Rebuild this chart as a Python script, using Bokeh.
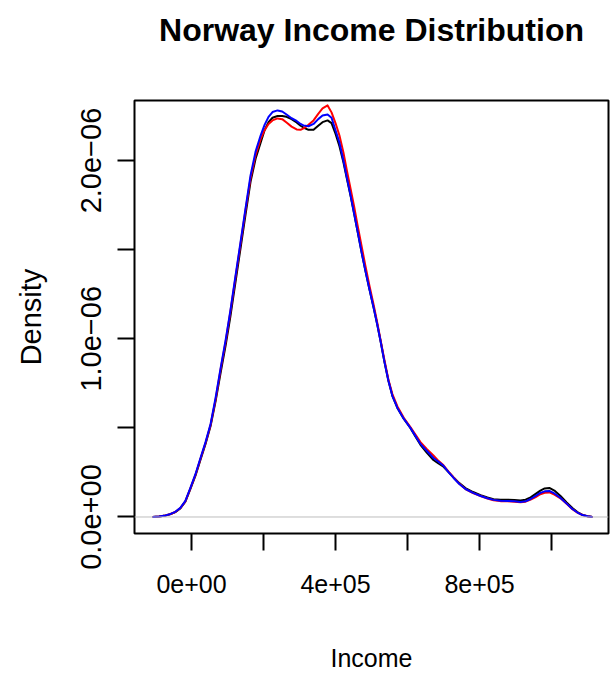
from bokeh.plotting import figure
from bokeh.models import Range1d, FixedTicker, Span, Title
from bokeh.embed import file_html
from bokeh.resources import INLINE

# Income grid (NOK) and density estimates (x 1e-6) for three samples
income = [-108000, -90000, -72000, -58000, -45000, -31000, -17000, -3000, 11000, 25000,
          39000, 53000, 67000, 81000, 95000, 108000, 122000, 136000, 150000, 164000,
          178000, 192000, 203000, 214000, 225000, 239000, 252000, 264000, 278000, 292000,
          303000, 311000, 325000, 339000, 352000, 364000, 378000, 389000, 400000, 411000,
          422000, 432000, 442000, 452000, 461000, 472000, 483000, 494000, 506000, 516000,
          525000, 536000, 547000, 558000, 572000, 590000, 608000, 622000, 636000, 654000,
          672000, 686000, 700000, 714000, 728000, 744000, 761000, 782000, 803000, 822000,
          839000, 858000, 878000, 897000, 914000, 928000, 942000, 956000, 969000, 981000,
          994000, 1008000, 1025000, 1042000, 1058000, 1072000, 1086000, 1100000, 1114000]

density_black = [0.0, 0.003, 0.008, 0.016, 0.027, 0.048, 0.086, 0.158, 0.232, 0.322,
                 0.41, 0.51, 0.65, 0.81, 0.965, 1.125, 1.315, 1.505, 1.695, 1.88,
                 2.01, 2.10, 2.17, 2.215, 2.24, 2.25, 2.25, 2.245, 2.232, 2.213,
                 2.195, 2.185, 2.172, 2.172, 2.195, 2.215, 2.225, 2.21, 2.15, 2.08,
                 1.99, 1.895, 1.80, 1.70, 1.605, 1.49, 1.382, 1.28, 1.174, 1.08,
                 0.989, 0.87, 0.764, 0.68, 0.612, 0.55, 0.50, 0.452, 0.405, 0.36,
                 0.32, 0.30, 0.282, 0.252, 0.222, 0.19, 0.162, 0.14, 0.122, 0.109,
                 0.10, 0.097, 0.097, 0.095, 0.092, 0.097, 0.11, 0.13, 0.148, 0.16,
                 0.163, 0.148, 0.118, 0.082, 0.05, 0.028, 0.012, 0.004, 0.0]

density_red = [0.0, 0.003, 0.009, 0.017, 0.028, 0.05, 0.088, 0.16, 0.236, 0.327,
               0.415, 0.516, 0.66, 0.83, 0.985, 1.15, 1.34, 1.53, 1.72, 1.90,
               2.03, 2.12, 2.17, 2.205, 2.225, 2.236, 2.232, 2.213, 2.19, 2.174,
               2.172, 2.18, 2.20, 2.225, 2.262, 2.292, 2.309, 2.27, 2.21, 2.14,
               2.045, 1.94, 1.84, 1.74, 1.64, 1.525, 1.41, 1.30, 1.19, 1.09,
               0.995, 0.88, 0.77, 0.69, 0.62, 0.555, 0.505, 0.462, 0.42, 0.38,
               0.345, 0.315, 0.29, 0.255, 0.222, 0.186, 0.157, 0.134, 0.118, 0.104,
               0.094, 0.089, 0.088, 0.086, 0.083, 0.086, 0.098, 0.112, 0.128, 0.136,
               0.138, 0.126, 0.105, 0.074, 0.044, 0.024, 0.011, 0.004, 0.0]

density_blue = [0.0, 0.003, 0.009, 0.017, 0.029, 0.051, 0.09, 0.163, 0.24, 0.331,
                0.42, 0.522, 0.67, 0.837, 0.995, 1.157, 1.35, 1.539, 1.73, 1.916,
                2.05, 2.14, 2.20, 2.245, 2.272, 2.281, 2.275, 2.258, 2.237, 2.222,
                2.205, 2.197, 2.192, 2.205, 2.232, 2.252, 2.258, 2.24, 2.17, 2.10,
                2.0, 1.90, 1.803, 1.70, 1.607, 1.49, 1.382, 1.28, 1.174, 1.08,
                0.989, 0.87, 0.764, 0.68, 0.612, 0.55, 0.5, 0.455, 0.41, 0.37,
                0.331, 0.31, 0.287, 0.252, 0.219, 0.185, 0.157, 0.135, 0.118, 0.105,
                0.096, 0.091, 0.090, 0.088, 0.084, 0.088, 0.101, 0.118, 0.135, 0.144,
                0.146, 0.132, 0.107, 0.075, 0.045, 0.025, 0.011, 0.004, 0.0]

x_ticks = [0, 200000, 400000, 600000, 800000, 1000000]
x_tick_labels = {0: "0e+00", 200000: "", 400000: "4e+05", 600000: "", 800000: "8e+05", 1000000: ""}
y_ticks = [0.0, 5e-07, 1e-06, 1.5e-06, 2e-06]
y_tick_labels = {0.0: "0.0e+00", 5e-07: "", 1e-06: "1.0e\u221206", 1.5e-06: "", 2e-06: "2.0e\u221206"}

FONT = "Liberation Sans"

p = figure(width=610, height=679, output_backend="svg", toolbar_location=None,
           x_range=Range1d(-158300, 1158300), y_range=Range1d(-0.0926e-6, 2.3366e-6),
           min_border_left=134, min_border_right=2, min_border_top=100, min_border_bottom=146,
           title="Norway Income Distribution")
p.title.align = "center"
p.title.text_font = FONT
p.title.text_font_size = "32px"
p.title.text_font_style = "bold"
p.title.text_color = "black"

# empty spacer between the title and the frame
p.add_layout(Title(text=" ", text_font_size="32px"), "above")

p.grid.visible = False
p.outline_line_color = "black"
p.outline_line_width = 2
p.background_fill_color = "white"
p.border_fill_color = "white"

p.add_layout(Span(location=0, dimension="width", line_color="#bebebe", line_width=1))

scale = 1e-6
for dens, col in ((density_black, "black"), (density_red, "red"), (density_blue, "blue")):
    p.line(income, [v * scale for v in dens], line_color=col, line_width=2, line_join="round")

xa = p.xaxis[0]
xa.ticker = FixedTicker(ticks=x_ticks, minor_ticks=[])
xa.major_label_overrides = x_tick_labels
xa.axis_label = "Income"
ya = p.yaxis[0]
ya.ticker = FixedTicker(ticks=y_ticks, minor_ticks=[])
ya.major_label_overrides = y_tick_labels
ya.axis_label = "Density"
ya.major_label_orientation = "vertical"

for ax in (xa, ya):
    ax.axis_line_color = None
    ax.major_tick_line_color = "black"
    ax.major_tick_line_width = 2
    ax.major_tick_out = 17
    ax.major_tick_in = 0
    ax.minor_tick_line_color = None
    ax.major_label_text_font = FONT
    ax.major_label_text_color = "black"
    ax.axis_label_text_font = FONT
    ax.axis_label_text_font_style = "normal"
    ax.axis_label_text_color = "black"

xa.major_label_text_font_size = "25px"
xa.axis_label_text_font_size = "25px"
ya.major_label_text_font_size = "29px"
ya.axis_label_text_font_size = "29px"

xa.major_label_standoff = 24
xa.axis_label_standoff = 48
ya.major_label_standoff = 16
ya.axis_label_standoff = 32

open("out.html", "w").write(file_html(p, INLINE))
